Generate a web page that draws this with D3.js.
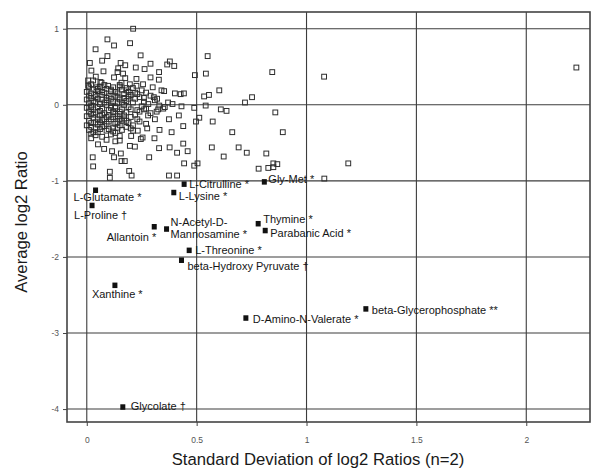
<!DOCTYPE html>
<html>
<head>
<meta charset="utf-8">
<script src="https://cdn.jsdelivr.net/npm/d3@7"></script>
<style>
  body { margin: 0; background: #fff; }
  svg { display: block; font-family: "Liberation Sans", Arial, sans-serif; }
</style>
</head>
<body>
<div id="chart"></div>
<script>
/* Data: metabolites that were not significant (open squares) */
const backgroundPoints = [
    [0.211, 1.00], [0.094, 0.86], [0.124, 0.78], [0.197, 0.81], [0.040, 0.73], [0.094, 0.64],
    [0.070, 0.58], [0.245, 0.65], [0.550, 0.64], [0.014, 0.55], [0.154, 0.55], [0.175, 0.52],
    [0.223, 0.49], [0.263, 0.47], [0.290, 0.54], [0.378, 0.57], [0.366, 0.53], [0.398, 0.51],
    [0.329, 0.43], [0.076, 0.44], [0.140, 0.43], [0.021, 0.45], [0.492, 0.39], [0.542, 0.41],
    [0.041, 0.37], [0.124, 0.36], [0.175, 0.35], [0.226, 0.34], [0.290, 0.36], [0.328, 0.33],
    [0.006, 0.32], [0.062, 0.30], [0.158, 0.29], [0.256, 0.27], [0.196, 0.27], [0.603, 0.19],
    [0.352, 0.18], [0.401, 0.15], [0.427, 0.14], [0.442, 0.15], [0.534, 0.11], [0.556, 0.13],
    [0.720, 0.03], [0.752, 0.10], [0.489, -0.04], [0.541, -0.01], [0.610, -0.06], [0.636, -0.08],
    [0.431, -0.02], [0.355, -0.03], [0.305, 0.10], [0.374, -0.19], [0.419, -0.14], [0.439, -0.28],
    [0.512, -0.17], [0.497, -0.22], [0.573, -0.22], [0.662, -0.36], [0.331, -0.33], [0.275, -0.31],
    [0.386, -0.36], [0.232, -0.34], [0.202, -0.41], [0.254, -0.43], [0.308, -0.44], [0.196, -0.54],
    [0.150, -0.47], [0.051, -0.52], [0.115, -0.61], [0.155, -0.64], [0.329, -0.57], [0.377, -0.56],
    [0.439, -0.51], [0.411, -0.63], [0.569, -0.56], [0.691, -0.56], [0.728, -0.63], [0.623, -0.68],
    [0.284, -0.69], [0.027, -0.69], [0.158, -0.74], [0.443, -0.77], [0.489, -0.80], [0.504, -0.77],
    [0.105, -0.88], [0.193, -0.87], [0.204, -0.93], [0.782, -0.84], [0.374, -0.93], [0.411, -0.93],
    [0.105, -0.96], [0.844, 0.43], [1.080, 0.37], [0.858, -0.10], [0.892, -0.36], [0.817, -0.64],
    [0.849, -0.77], [0.867, -0.78], [0.826, -0.83], [0.849, -0.82], [1.190, -0.77], [1.081, -0.97],
    [2.228, 0.49], [0.029, -0.81], [0.079, -0.58], [0.124, -0.69], [0.173, -0.74], [0.219, -0.55],
    [0.211, -0.34], [0.325, -0.06], [0.348, -0.05], [0.261, -0.06], [0.310, -0.19], [0.279, -0.14],
    [0.318, -0.09], [0.246, -0.45], [0.459, -0.61], [0.067, 0.29], [0.029, 0.32], [0.097, 0.25],
    [0.150, 0.26], [0.181, 0.22], [0.226, 0.25], [0.044, 0.23], [0.006, 0.25], [0.165, 0.41],
    [0.143, 0.48],
    [0.01, 0.23], [0.03, 0.20], [0.06, 0.24], [0.09, 0.21], [0.12, 0.23], [0.16, 0.20], [0.21, 0.22],
    [0.25, 0.19], [0.30, 0.23], [0.00, 0.17], [0.02, 0.15], [0.05, 0.18], [0.08, 0.16], [0.11, 0.18],
    [0.14, 0.15], [0.19, 0.17], [0.23, 0.14], [0.27, 0.16], [0.34, 0.19], [0.01, 0.12], [0.04, 0.10],
    [0.07, 0.13], [0.10, 0.11], [0.13, 0.12], [0.17, 0.09], [0.20, 0.13], [0.24, 0.10], [0.29, 0.12],
    [0.32, 0.08], [0.00, 0.07], [0.03, 0.05], [0.05, 0.08], [0.09, 0.06], [0.12, 0.04], [0.15, 0.07],
    [0.18, 0.05], [0.22, 0.08], [0.26, 0.04], [0.31, 0.06], [0.37, 0.03], [0.01, 0.02], [0.02, -0.01],
    [0.06, 0.01], [0.08, 0.03], [0.11, -0.01], [0.14, 0.02], [0.17, 0.00], [0.21, 0.03], [0.25, -0.02],
    [0.28, 0.01], [0.33, -0.01], [0.00, -0.04], [0.03, -0.06], [0.05, -0.03], [0.07, -0.05], [0.10, -0.07],
    [0.13, -0.04], [0.16, -0.06], [0.19, -0.03], [0.23, -0.07], [0.27, -0.05], [0.39, 0.01], [0.01, -0.09],
    [0.02, -0.12], [0.04, -0.10], [0.08, -0.11], [0.12, -0.09], [0.15, -0.12], [0.18, -0.10], [0.22, -0.13],
    [0.24, -0.09], [0.29, -0.11], [0.00, -0.15], [0.03, -0.17], [0.06, -0.14], [0.09, -0.16], [0.11, -0.19],
    [0.14, -0.15], [0.17, -0.18], [0.20, -0.16], [0.23, -0.19], [0.01, -0.21], [0.04, -0.23], [0.07, -0.20],
    [0.10, -0.22], [0.13, -0.25], [0.16, -0.21], [0.19, -0.24], [0.24, -0.22], [0.27, -0.25], [0.00, -0.27],
    [0.02, -0.29], [0.05, -0.26], [0.08, -0.28], [0.12, -0.30], [0.15, -0.27], [0.18, -0.29], [0.21, -0.27],
    [0.01, -0.33], [0.03, -0.36], [0.06, -0.32], [0.09, -0.34], [0.13, -0.37], [0.16, -0.33], [0.04, -0.40],
    [0.07, -0.42], [0.11, -0.39], [0.15, -0.41], [0.09, -0.46], [0.13, -0.48], [0.02, -0.44],
    [0.02, 0.27], [0.05, 0.21], [0.08, 0.26], [0.11, 0.20], [0.15, 0.24], [0.18, 0.19], [0.07, 0.17],
    [0.13, 0.17], [0.17, 0.14], [0.04, 0.13], [0.09, 0.09], [0.14, 0.10], [0.02, 0.09], [0.07, 0.07],
    [0.11, 0.08], [0.16, 0.03], [0.19, 0.08], [0.04, 0.03], [0.09, 0.00], [0.13, -0.02], [0.02, -0.03],
    [0.06, -0.08], [0.11, -0.04], [0.15, -0.09], [0.20, -0.06], [0.03, -0.13], [0.07, -0.13], [0.10, -0.14],
    [0.13, -0.12], [0.17, -0.14], [0.05, -0.19], [0.08, -0.19], [0.12, -0.16], [0.15, -0.19], [0.02, -0.24],
    [0.06, -0.23], [0.09, -0.25], [0.14, -0.23], [0.18, -0.21], [0.04, -0.31], [0.07, -0.29], [0.10, -0.32],
    [0.14, -0.30], [0.02, -0.38], [0.05, -0.36], [0.12, -0.35], [0.20, -0.31], [0.19, 0.11], [0.22, 0.16],
    [0.26, 0.09]
];

/* Significant metabolites (filled squares) */
const sigNames = [
    "L-Glutamate *", "L-Proline †", "L-Citrulline *", "L-Lysine *", "Allantoin *",
    "N-Acetyl-D-|Mannosamine *", "L-Threonine *", "beta-Hydroxy Pyruvate †", "Xanthine *",
    "Gly-Met *", "Thymine *", "Parabanic Acid *", "beta-Glycerophosphate **",
    "D-Amino-N-Valerate *", "Glycolate †"
];
const sigSD = [0.040, 0.024, 0.443, 0.396, 0.307, 0.363, 0.466, 0.431, 0.128, 0.808, 0.780, 0.812, 1.270, 0.724, 0.164];
const sigMean = [-1.12, -1.32, -1.04, -1.15, -1.60, -1.63, -1.91, -2.04, -2.37, -1.01, -1.56, -1.65, -2.68, -2.80, -3.97];

const xTicks = [0, 0.5, 1, 1.5, 2];
const yTicks = [1, 0, -1, -2, -3, -4];

/* label placement relative to each filled marker: [dx, dy, anchor] */
const labelPlacement = [
    [-22, 11, "start"], [-18, 14, "start"], [5, 4, "start"], [5, 8, "start"], [2, 14, "end"],
    [4, -3, "start"], [6, 4, "start"], [6, 10, "start"], [-23, 13, "start"],
    [4, 1, "start"], [5, 0, "start"], [5, 7, "start"], [6, 5, "start"],
    [7, 5, "start"], [8, 3, "start"]
];

const W = 592, H = 470;
const margin = { top: 12, right: 2, bottom: 48, left: 67 };
const width = W - margin.left - margin.right;
const height = H - margin.top - margin.bottom;

const svg = d3.select("#chart").append("svg")
    .attr("width", W).attr("height", H);
const g = svg.append("g")
    .attr("transform", `translate(${margin.left},${margin.top})`);

const x = d3.scaleLinear().domain([-0.09, 2.29]).range([0, width]);
const y = d3.scaleLinear().domain([-4.17, 1.22]).range([height, 0]);

/* gridlines */
g.append("g")
    .selectAll("line").data(xTicks).join("line")
    .attr("x1", d => x(d)).attr("x2", d => x(d))
    .attr("y1", 0).attr("y2", height)
    .style("stroke", "#3c3c3c").style("stroke-width", 1.1);
g.append("g")
    .selectAll("line").data(yTicks).join("line")
    .attr("x1", 0).attr("x2", width)
    .attr("y1", d => y(d)).attr("y2", d => y(d))
    .style("stroke", "#3c3c3c").style("stroke-width", 1.1);

/* axes */
const fmt = d => String(d);
const xAxis = g.append("g")
    .attr("transform", `translate(0,${height})`)
    .call(d3.axisBottom(x).tickValues(xTicks).tickFormat(fmt).tickSize(4).tickPadding(11));
const yAxis = g.append("g")
    .call(d3.axisLeft(y).tickValues(yTicks).tickFormat(fmt).tickSize(4).tickPadding(4));
[xAxis, yAxis].forEach(a => {
    a.select(".domain").remove();
    a.selectAll("line").style("stroke", "#444");
    a.selectAll("text").style("font-size", "8.5px").style("fill", "#555")
        .style("font-family", "'Liberation Sans', Arial, sans-serif");
});

/* frame */
g.append("rect")
    .attr("x", 0).attr("y", 0).attr("width", width).attr("height", height)
    .style("fill", "none").style("stroke", "#444").style("stroke-width", 1.6);

/* open squares */
const s = 4.8;
g.append("g")
    .selectAll("rect").data(backgroundPoints).join("rect")
    .attr("x", d => x(d[0]) - s / 2)
    .attr("y", d => y(d[1]) - s / 2)
    .attr("width", s).attr("height", s)
    .style("fill", "none").style("stroke", "#2e2e2e").style("stroke-width", 1);

/* filled squares with labels */
const sig = sigNames.map((n, i) => ({ name: n, sd: sigSD[i], mean: sigMean[i], place: labelPlacement[i] }));
g.append("g")
    .selectAll("rect").data(sig).join("rect")
    .attr("x", d => x(d.sd) - 2.5)
    .attr("y", d => y(d.mean) - 2.5)
    .attr("width", 5).attr("height", 5.5)
    .style("fill", "#111");

const labels = g.append("g").selectAll("text").data(sig).join("text")
    .attr("x", d => x(d.sd) + d.place[0])
    .attr("y", d => y(d.mean) + d.place[1])
    .attr("text-anchor", d => d.place[2])
    .style("font-size", "11px")
    .style("fill", "#151515");
labels.each(function (d) {
    const parts = d.name.split("|");
    const t = d3.select(this);
    parts.forEach((p, i) => {
        t.append("tspan")
            .attr("x", x(d.sd) + d.place[0])
            .attr("dy", i === 0 ? 0 : 12)
            .text(p);
    });
});

/* axis titles */
svg.append("text")
    .attr("x", 318)
    .attr("y", 465)
    .attr("text-anchor", "middle")
    .style("font-size", "16.7px")
    .style("fill", "#1a1a1a")
    .text("Standard Deviation of log2 Ratios (n=2)");
svg.append("text")
    .attr("transform", "rotate(-90)")
    .attr("x", -222)
    .attr("y", 27)
    .attr("text-anchor", "middle")
    .style("font-size", "16.7px")
    .style("fill", "#1a1a1a")
    .text("Average log2 Ratio");
</script>
</body>
</html>
